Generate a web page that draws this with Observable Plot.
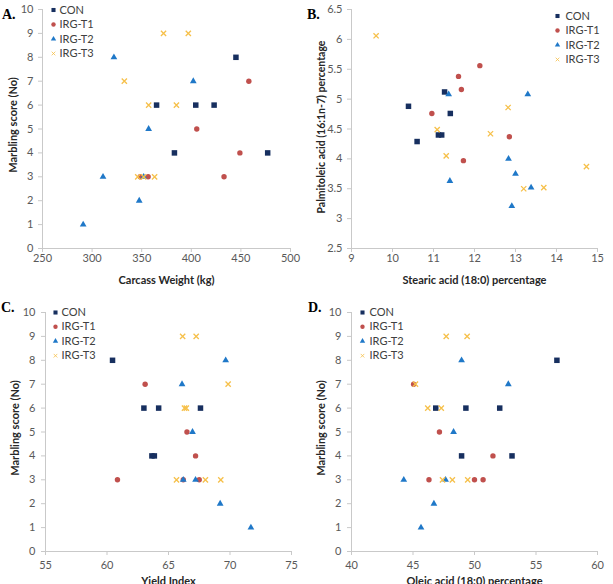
<!DOCTYPE html>
<html>
<head>
<meta charset="utf-8">
<script src="https://cdn.jsdelivr.net/npm/d3@7"></script>
<script src="https://cdn.jsdelivr.net/npm/@observablehq/plot@0.6"></script>
<style>
  body { margin: 0; background: #fff; }
  #fig { position: relative; width: 613px; height: 584px; overflow: hidden; font-family: Lato, "Open Sans", sans-serif; }
  .panel { position: absolute; }
  .tag { position: absolute; font: bold 14px "Liberation Serif", "DejaVu Serif", serif; color: #000; line-height: 1; }
</style>
</head>
<body>
<div id="fig"></div>
<script>
// Treatment groups, in drawing order
const groups = ["CON", "IRG-T1", "IRG-T2", "IRG-T3"];

// A. Carcass weight (kg) vs marbling score
const aCON = [[445, 8], [365, 6], [404.5, 6], [423, 6], [383, 4], [477, 4]];
const aT1  = [[458, 7], [405.5, 5], [449, 4], [433, 3], [348.5, 3], [356.5, 3]];
const aT2  = [[322, 8], [402, 7], [357, 5], [311, 3], [352, 3], [347.5, 2], [291, 1]];
const aT3  = [[372, 9], [397, 9], [332.5, 7], [357, 6], [385, 6], [346, 3], [352, 3], [363, 3]];

// B. Stearic acid (18:0) % vs palmitoleic acid (16:1n-7) %
const bCON = [[10.39, 4.88], [10.6, 4.29], [11.12, 4.4], [11.2, 4.4], [11.27, 5.12], [11.41, 4.76]];
const bT1  = [[10.96, 4.76], [11.61, 5.38], [11.68, 5.16], [12.13, 5.56], [12.85, 4.37], [11.73, 3.97]];
const bT2  = [[11.37, 5.08], [11.4, 3.63], [12.83, 4.0], [13.0, 3.75], [13.3, 5.08], [13.38, 3.52], [12.91, 3.21]];
const bT3  = [[9.6, 6.06], [11.09, 4.49], [11.31, 4.05], [12.39, 4.42], [12.82, 4.86], [13.2, 3.5], [13.69, 3.52], [14.73, 3.87]];

// C. Yield index vs marbling score
const cCON = [[60.45, 8], [63.0, 6], [64.2, 6], [67.6, 6], [63.65, 4], [63.85, 4]];
const cT1  = [[63.1, 7], [66.5, 5], [67.2, 4], [60.85, 3], [66.2, 3], [67.5, 3]];
const cT2  = [[69.65, 8], [66.1, 7], [66.95, 5], [66.2, 3], [67.2, 3], [69.2, 2], [71.7, 1]];
const cT3  = [[66.15, 9], [67.25, 9], [69.85, 7], [66.3, 6], [66.45, 6], [65.65, 3], [68.0, 3], [69.25, 3]];

// D. Oleic acid % vs marbling score
const dCON = [[56.7, 8], [46.85, 6], [49.3, 6], [52.05, 6], [48.95, 4], [53.05, 4]];
const dT1  = [[45.05, 7], [47.15, 5], [51.5, 4], [46.3, 3], [50.0, 3], [50.7, 3]];
const dT2  = [[48.95, 8], [52.75, 7], [48.3, 5], [44.25, 3], [47.65, 3], [46.7, 2], [45.65, 1]];
const dT3  = [[47.7, 9], [49.4, 9], [45.2, 7], [46.2, 6], [47.3, 6], [47.4, 3], [48.2, 3], [49.45, 3]];

// Axis ticks and titles
const marblingTicks = [0, 1, 2, 3, 4, 5, 6, 7, 8, 9, 10];
const weightTicks = [250, 300, 350, 400, 450, 500];
const stearicTicks = [9, 10, 11, 12, 13, 14, 15];
const palmitoleicTicks = [2.5, 3, 3.5, 4, 4.5, 5, 5.5, 6, 6.5];
const yieldTicks = [55, 60, 65, 70, 75];
const oleicTicks = [40, 45, 50, 55, 60];
const marblingTitle = "Marbling score (No)";

// Marker styles per group
const markerStyle = {
  "CON":    {symbol: "square",   fill: "#172f5f", r: 3.1, lr: 2.3},
  "IRG-T1": {symbol: "circle",   fill: "#c0504d", r: 2.7, lr: 2.2},
  "IRG-T2": {symbol: "triangle", fill: "#1f78c8", r: 2.5, lr: 2.0},
  "IRG-T3": {symbol: "times",    stroke: "#f6c04a", r: 2.5, lr: 1.8}
};

const axisGray = "#c9c9c9";
const tickText = "#595959";

function panel(cfg) {
  const series = cfg.series;
  const marks = [
    Plot.ruleX([cfg.xDomain[0]], {stroke: axisGray, strokeWidth: 1}),
    Plot.ruleY([cfg.yDomain[0]], {stroke: axisGray, strokeWidth: 1}),
    Plot.axisX({ticks: cfg.xTicks, tickSize: 4, tickPadding: cfg.xPad, stroke: axisGray, fill: tickText,
                fontSize: 11, label: null, tickFormat: d => String(d)}),
    Plot.axisY({ticks: cfg.yTicks, tickSize: 4, tickPadding: cfg.yPad, stroke: axisGray, fill: tickText,
                fontSize: 11, label: null, tickFormat: d => String(d)})
  ];
  groups.forEach((g, i) => {
    const s = markerStyle[g];
    const opts = {x: d => d[0], y: d => d[1], symbol: () => s.symbol, r: s.r};
    if (s.fill) opts.fill = s.fill; else { opts.stroke = s.stroke; opts.strokeWidth = 1.3; }
    marks.push(Plot.dot(series[i], opts));
    // legend row
    const lo = {frameAnchor: "top-left", dx: cfg.legend.mx, dy: cfg.legend.rows[i], symbol: () => s.symbol, r: s.lr};
    if (s.fill) lo.fill = s.fill; else { lo.stroke = s.stroke; lo.strokeWidth = 1; lo.strokeOpacity = 0.8; }
    marks.push(Plot.dot([g], lo));
    marks.push(Plot.text([g], {frameAnchor: "top-left", dx: cfg.legend.tx, dy: cfg.legend.rows[i], text: d => d,
      textAnchor: "start", lineAnchor: "middle", fontSize: 11, fill: "#404040"}));
  });
  marks.push(Plot.text([cfg.xTitle], {frameAnchor: "bottom", dy: cfg.xTitleDy, text: d => d,
    textAnchor: "middle", lineAnchor: "middle", fontSize: 11, fontWeight: "bold", fill: "#262626"}));
  marks.push(Plot.text([cfg.yTitle], {frameAnchor: "left", dx: cfg.yTitleDx, dy: cfg.yTitleDy || 0, text: d => d,
    rotate: -90, textAnchor: "middle", lineAnchor: "middle", fontSize: cfg.yTitleSize || 11,
    fontWeight: "bold", fill: "#262626"}));

  const chart = Plot.plot({
    width: 306,
    height: cfg.height,
    marginLeft: cfg.m[0], marginRight: cfg.m[1], marginTop: cfg.m[2], marginBottom: cfg.m[3],
    style: {fontFamily: "Lato, 'Open Sans', sans-serif", background: "transparent", overflow: "visible"},
    x: {domain: cfg.xDomain},
    y: {domain: cfg.yDomain},
    marks
  });
  const wrap = document.createElement("div");
  wrap.className = "panel";
  wrap.style.left = cfg.left + "px";
  wrap.style.top = cfg.top + "px";
  wrap.appendChild(chart);
  document.getElementById("fig").appendChild(wrap);

  const tag = document.createElement("div");
  tag.className = "tag";
  tag.textContent = cfg.tag;
  tag.style.left = cfg.tagPos[0] + "px";
  tag.style.top = cfg.tagPos[1] + "px";
  document.getElementById("fig").appendChild(tag);
}

panel({
  tag: "A.", tagPos: [2, 8], left: 0, top: 0, height: 290, m: [42, 16, 9, 42],
  series: [aCON, aT1, aT2, aT3],
  xDomain: [250, 500], xTicks: weightTicks, yDomain: [0, 10], yTicks: marblingTicks,
  xPad: 2, yPad: 5, xTitle: "Carcass Weight (kg)", xTitleDy: 32,
  yTitle: marblingTitle, yTitleDx: -29, yTitleDy: -4,
  legend: {mx: 11, tx: 17, rows: [0.5, 15, 29.5, 44]}
});

panel({
  tag: "B.", tagPos: [307, 8], left: 306, top: 0, height: 290, m: [45, 15, 9, 42],
  series: [bCON, bT1, bT2, bT3],
  xDomain: [9, 15], xTicks: stearicTicks, yDomain: [2.5, 6.5], yTicks: palmitoleicTicks,
  xPad: 2, yPad: 5, xTitle: "Stearic acid (18:0) percentage", xTitleDy: 32,
  yTitle: "Palmitoleic acid (16:1n-7) percentage", yTitleDx: -30, yTitleDy: -2, yTitleSize: 10.5,
  legend: {mx: 206, tx: 214, rows: [6.5, 21, 35.5, 50]}
});

panel({
  tag: "C.", tagPos: [1, 301], left: 0, top: 290, height: 294, m: [45, 15, 22, 33],
  series: [cCON, cT1, cT2, cT3],
  xDomain: [55, 75], xTicks: yieldTicks, yDomain: [0, 10], yTicks: marblingTicks,
  xPad: 6, yPad: 6, xTitle: "Yield Index", xTitleDy: 30,
  yTitle: marblingTitle, yTitleDx: -30, yTitleDy: -4,
  legend: {mx: 10, tx: 16, rows: [0, 14.3, 28.7, 43.2]}
});

panel({
  tag: "D.", tagPos: [308, 301], left: 306, top: 290, height: 294, m: [45, 15, 22, 33],
  series: [dCON, dT1, dT2, dT3],
  xDomain: [40, 60], xTicks: oleicTicks, yDomain: [0, 10], yTicks: marblingTicks,
  xPad: 6, yPad: 6, xTitle: "Oleic acid (18:0) percentage", xTitleDy: 30,
  yTitle: marblingTitle, yTitleDx: -30, yTitleDy: -4,
  legend: {mx: 11, tx: 18, rows: [0, 14.3, 28.7, 43.2]}
});
</script>
</body>
</html>
